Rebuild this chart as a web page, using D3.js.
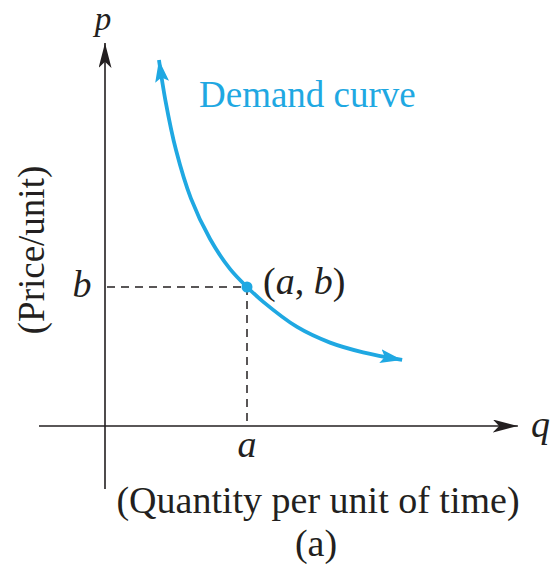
<!DOCTYPE html>
<html>
<head>
<meta charset="utf-8">
<script src="https://cdn.jsdelivr.net/npm/d3@7"></script>
<style>
  html, body { margin: 0; padding: 0; background: #fff; }
  svg text { font-family: "Liberation Serif", "DejaVu Serif", serif; fill: #231f20; }
</style>
</head>
<body>
<svg id="chart" width="550" height="564"></svg>
<script>
// Demand curve: quantity q against price p (arbitrary units)
const demandQ = [1.52, 1.70, 2.00, 2.42, 2.96, 3.52, 4.00, 4.45, 5.41, 6.34, 7.27, 8.37];
const demandP = [10.53, 9.38, 7.94, 6.55, 5.38, 4.52, 4.00, 3.58, 2.85, 2.40, 2.12, 1.90];
// Marked point (a, b) on the curve
const pointAB = [4.0, 4.0];
// Extent of the drawn axes
const qAxisExtent = [-1.86, 11.63];
const pAxisExtent = [-1.81, 11.02];
// Labels
const axisNames = ["p", "q"];
const pointNames = ["a", "b"];
const titles = ["Demand curve", "(Quantity per unit of time)", "(Price/unit)", "(a)"];

const cyan = "#1fa8e2";
const ink = "#231f20";

const svg = d3.select("#chart");
const x = d3.scaleLinear().domain([0, 10]).range([105, 460]);
const y = d3.scaleLinear().domain([0, 10]).range([426, 78.5]);

const defs = svg.append("defs");
function arrow(id, color, len, half, notch) {
  defs.append("marker")
    .attr("id", id)
    .attr("markerUnits", "userSpaceOnUse")
    .attr("viewBox", `${-len} ${-half} ${len + 1} ${half * 2}`)
    .attr("refX", 0).attr("refY", 0)
    .attr("markerWidth", len + 1).attr("markerHeight", half * 2)
    .attr("orient", "auto-start-reverse")
    .append("path")
    .attr("d", `M0,0 L${-len},${-half} L${-len * notch},0 L${-len},${half} Z`)
    .attr("fill", color);
}
arrow("axisArrow", ink, 25, 6.5, 0.75);
arrow("curveArrow", cyan, 22, 7, 0.8);

// Axes
svg.append("line")
  .attr("x1", x(qAxisExtent[0])).attr("x2", x(qAxisExtent[1]))
  .attr("y1", y(0)).attr("y2", y(0))
  .attr("stroke", ink).attr("stroke-width", 1.6)
  .attr("marker-end", "url(#axisArrow)");
svg.append("line")
  .attr("x1", x(0)).attr("x2", x(0))
  .attr("y1", y(pAxisExtent[0])).attr("y2", y(pAxisExtent[1]))
  .attr("stroke", ink).attr("stroke-width", 1.6)
  .attr("marker-end", "url(#axisArrow)");

// Dashed guides to the marked point
const guides = svg.append("g")
  .attr("stroke", ink).attr("stroke-width", 1.5)
  .attr("stroke-dasharray", "8,6");
guides.append("line")
  .attr("x1", x(0) + 2).attr("x2", x(pointAB[0]))
  .attr("y1", y(pointAB[1])).attr("y2", y(pointAB[1]));
guides.append("line")
  .attr("x1", x(pointAB[0])).attr("x2", x(pointAB[0]))
  .attr("y1", y(pointAB[1])).attr("y2", y(0));

// Demand curve
const curvePts = demandQ.map((q, i) => [q, demandP[i]]);
const line = d3.line()
  .x(d => x(d[0])).y(d => y(d[1]))
  .curve(d3.curveCatmullRom.alpha(0.5));
svg.append("path")
  .datum(curvePts)
  .attr("d", line)
  .attr("fill", "none")
  .attr("stroke", cyan).attr("stroke-width", 3.8)
  .attr("marker-start", "url(#curveArrow)")
  .attr("marker-end", "url(#curveArrow)");

svg.append("circle")
  .attr("cx", x(pointAB[0])).attr("cy", y(pointAB[1]))
  .attr("r", 5.5).attr("fill", cyan);

// Labels
const fs = 38;
svg.append("text")
  .attr("x", 199).attr("y", 107)
  .attr("font-size", 37)
  .style("fill", cyan)
  .text(titles[0]);

svg.append("text")
  .attr("x", 263).attr("y", 294)
  .attr("font-size", fs)
  .html('(<tspan font-style="italic">a</tspan>, <tspan font-style="italic">b</tspan>)');

svg.append("text")
  .attr("x", x(0) - 2).attr("y", 30)
  .attr("text-anchor", "middle")
  .attr("font-size", 33).attr("font-style", "italic")
  .text(axisNames[0]);
svg.append("text")
  .attr("x", 531).attr("y", 437)
  .attr("font-size", fs).attr("font-style", "italic")
  .text(axisNames[1]);

svg.append("text")
  .attr("x", x(pointAB[0])).attr("y", 457)
  .attr("text-anchor", "middle")
  .attr("font-size", fs).attr("font-style", "italic")
  .text(pointNames[0]);
svg.append("text")
  .attr("x", 82).attr("y", y(pointAB[1]) + 10)
  .attr("text-anchor", "middle")
  .attr("font-size", fs).attr("font-style", "italic")
  .text(pointNames[1]);

svg.append("text")
  .attr("x", 318).attr("y", 513)
  .attr("text-anchor", "middle")
  .attr("font-size", fs)
  .text(titles[1]);

svg.append("text")
  .attr("transform", "translate(44,250) rotate(-90)")
  .attr("text-anchor", "middle")
  .attr("font-size", 37)
  .text(titles[2]);

svg.append("text")
  .attr("x", 316).attr("y", 556)
  .attr("text-anchor", "middle")
  .attr("font-size", fs)
  .text(titles[3]);
</script>
</body>
</html>
